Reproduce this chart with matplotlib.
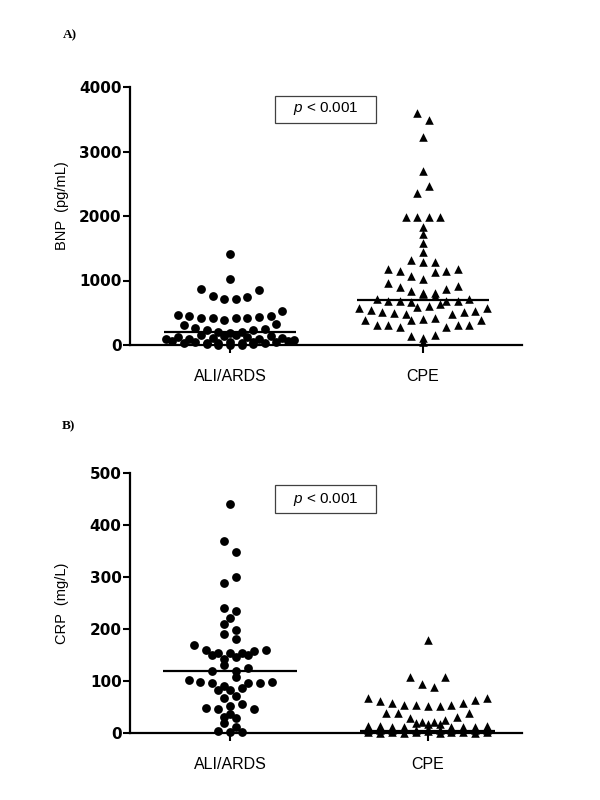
import numpy as np
import matplotlib.pyplot as plt
from matplotlib.patches import Rectangle

plt.rcParams['font.family'] = ['Liberation Sans', 'DejaVu Sans']
plt.rcParams['mathtext.fontset'] = 'custom'
plt.rcParams['mathtext.it'] = 'Liberation Sans:italic'
plt.rcParams['mathtext.rm'] = 'Liberation Sans'

groups = ["ALI/ARDS", "CPE"]

# BNP (pg/mL), read row by row from the bottom, left to right
bnp_ali = [10, 0, 5, 0, 15,
           55, 30, 40, 35, 25, 45, 30, 50, 35, 40, 60,
           100, 130, 90, 150, 110, 140, 160, 120, 95, 135, 105, 85,
           310, 260, 225, 200, 190, 200, 225, 250, 325,
           470, 445, 420, 420, 395, 420, 420, 440, 455, 530,
           870, 755, 715, 715, 740, 845,
           1020, 1410]
bnp_cpe = [40,
           140, 110, 160,
           390, 310, 310, 285, 390, 410, 425, 285, 310, 310, 395,
           568, 543, 517, 501, 481, 594, 605, 630, 481, 517, 532, 568,
           713, 687, 687, 660, 786, 760, 687, 687, 713,
           965, 895, 835, 810, 810, 870, 920,
           1185, 1150, 1075, 1025, 1135, 1150, 1185,
           1320, 1280, 1280,
           1447, 1576, 1721, 1824,
           1990, 1990, 1990, 1990,
           2360, 2470, 2690, 3230, 3590, 3490]
bnp_medians = [197, 700]

# CRP (mg/L)
crp_ali = [3, 1, 1, 19, 12, 30, 28, 37,
           49, 46, 52, 55, 47, 68, 71, 82, 82, 87,
           101, 99, 97, 91, 107, 97, 97, 99,
           120, 131, 120, 125, 150, 142, 146, 150,
           170, 160, 154, 153, 154, 158, 160,
           190, 180, 210, 199, 221, 240, 234, 289, 300, 370, 349, 441]
crp_cpe = [1, 0, 2, 0, 1, 3, 0, 2, 1, 0, 1,
           5, 6, 5, 7, 6, 8, 6, 5, 7, 6, 5,
           13, 13, 11, 11, 19, 17, 17, 11, 11, 11, 13,
           39, 39, 28, 22, 22, 25, 31, 39,
           68, 62, 58, 54, 54, 52, 52, 54, 57, 63, 67,
           108, 94, 89, 108, 179]
crp_medians = [120, 3]

# row bins used to spread the dots sideways
bnp_ali_rows = [20, 70, 175, 350, 600, 900, 1200]
bnp_cpe_rows = [100, 250, 440, 645, 800, 1000, 1220, 1400, 1500, 1650,
                1780, 1900, 2200, 2600, 3000, 3400]
crp_ali_rows = [8, 24, 34, 42, 60, 76, 90, 112, 136, 151, 175, 195,
                215, 228, 260, 320, 400]
crp_cpe_rows = [4, 9, 21, 45, 80, 150]


def row_offsets(values, edges, step):
    values = np.asarray(values, float)
    rows = np.digitize(values, edges)
    x = np.zeros(len(values))
    for r in np.unique(rows):
        idx = np.where(rows == r)[0]
        n = len(idx)
        x[idx] = (np.arange(n) - (n - 1) / 2) * step
    return x


def panel(ax, data, edges, medians, ymax, ystep, ylabel, xlim, box_y, text_y):
    markers = ['o', '^']
    sizes = [40, 38]
    for i in range(2):
        x = i + row_offsets(data[i], edges[i], 0.06)
        ax.scatter(x, data[i], marker=markers[i], s=sizes[i], color='black',
                   linewidths=0, clip_on=False, zorder=3)
        ax.plot([i - 0.34, i + 0.34], [medians[i]] * 2, color='black',
                lw=1.6, solid_capstyle='butt', zorder=4)

    ax.set_xlim(*xlim)
    ax.set_ylim(0, ymax)
    ax.set_yticks(np.arange(0, ymax + 1, ystep))
    ax.set_xticks([0, 1])
    ax.set_xticklabels(groups, fontsize=11.5)
    for lab in ax.get_yticklabels():
        lab.set_fontfamily('DejaVu Sans')
        lab.set_fontweight('bold')
        lab.set_fontsize(11)
    ax.spines['top'].set_visible(False)
    ax.spines['right'].set_visible(False)
    ax.spines['left'].set_linewidth(1.6)
    ax.spines['bottom'].set_linewidth(1.6)
    ax.tick_params(axis='y', length=5, width=1.5, pad=1)
    ax.tick_params(axis='x', length=6, width=1.5, pad=11)

    ax.set_ylabel(ylabel, fontsize=10.5, va='center')

    ax.add_patch(Rectangle((0.370, box_y), 0.258, 0.107, transform=ax.transAxes,
                           fill=False, ec='0.25', lw=0.9, clip_on=False))
    ax.text(0.499, text_y, r'$\it{p}$ < 0.001', transform=ax.transAxes,
            ha='center', va='center', fontsize=11)


fig = plt.figure(figsize=(6, 8), dpi=100)
axA = fig.add_axes([130 / 600, 1 - 345 / 800, 392 / 600, 258 / 800])
axB = fig.add_axes([130 / 600, 1 - 733 / 800, 392 / 600, 260 / 800])

panel(axA, [bnp_ali, bnp_cpe], [bnp_ali_rows, bnp_cpe_rows], bnp_medians,
      4000, 1000, 'BNP  (pg/mL)', (-0.518, 1.513), 0.860, 0.915)
panel(axB, [crp_ali, crp_cpe], [crp_ali_rows, crp_cpe_rows], crp_medians,
      500, 100, 'CRP  (mg/L)', (-0.506, 1.477), 0.846, 0.898)

axA.yaxis.set_label_coords(-0.173, 0.54)
axB.yaxis.set_label_coords(-0.173, 0.50)

fig.text(63 / 600, 1 - 35 / 800, 'A)', family='Liberation Serif',
         weight='bold', fontsize=9.5, va='center')
fig.text(62 / 600, 1 - 426 / 800, 'B)', family='Liberation Serif',
         weight='bold', fontsize=9.5, va='center')

fig.savefig('out.png', dpi=100)
